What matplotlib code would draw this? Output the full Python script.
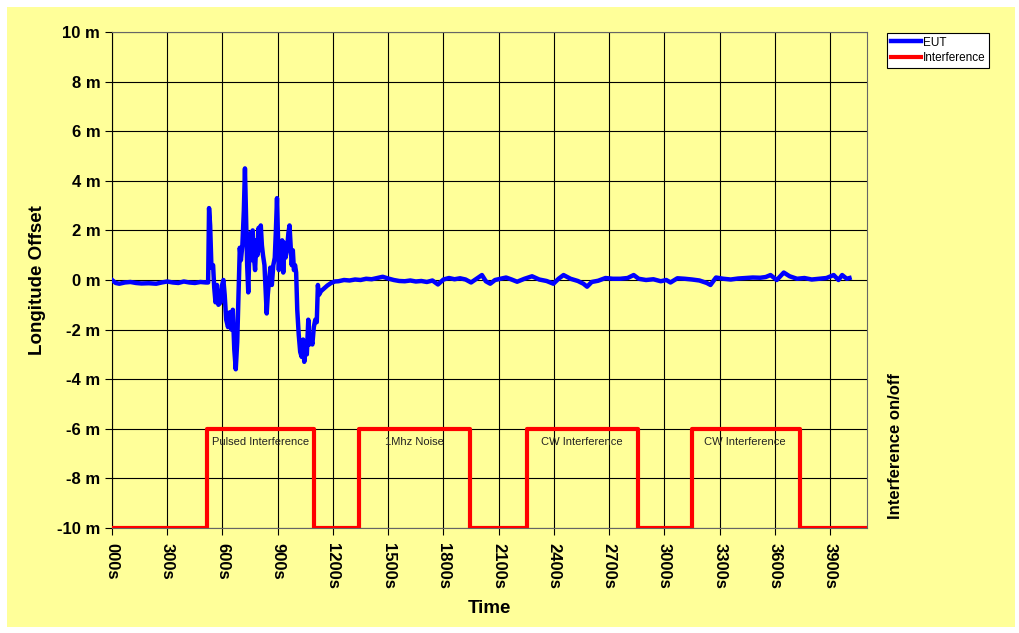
import matplotlib.pyplot as plt
from matplotlib.patches import Rectangle

plt.rcParams['font.family'] = ['Liberation Sans', 'DejaVu Sans']

# EUT longitude offset (m) over time (s)
eut_t = [0, 20, 40, 70, 100, 130, 160, 200, 240, 270, 300, 330, 360, 390, 420,
         450, 480, 510, 522,
         527, 533, 540, 549, 555, 562, 570, 578, 590, 598, 605, 612, 620, 630,
         640, 648, 656, 664, 672, 680, 688, 694, 700, 708, 716, 722, 728, 734,
         740, 746, 752, 758, 764, 770, 777, 784, 790, 796, 802, 808, 814, 820,
         828, 834, 840, 846, 852, 860, 868, 876, 884, 890, 896, 900, 906, 912,
         918, 924, 930, 936, 942, 950, 958, 964, 970, 976, 982, 988, 994, 1000,
         1006, 1014, 1022, 1030, 1038, 1044, 1050, 1058, 1066, 1072, 1080, 1088,
         1096, 1104, 1112, 1118, 1124, 1135, 1150, 1170, 1190, 1210,
         1230, 1260, 1290, 1320, 1350, 1380, 1410, 1440, 1470, 1500, 1530, 1560,
         1590, 1620, 1650, 1680, 1710, 1740, 1770, 1800, 1830, 1860, 1890, 1920,
         1950, 1980, 2009, 2030, 2054, 2080, 2110, 2140, 2170, 2200, 2240, 2281,
         2320, 2360, 2397, 2425, 2452, 2490, 2530, 2560, 2580, 2605, 2640, 2680,
         2720, 2760, 2800, 2833, 2860, 2900, 2940, 2980, 3010, 3033, 3070, 3110,
         3150, 3190, 3230, 3250, 3280, 3320, 3360, 3400, 3440, 3480, 3520, 3550,
         3576, 3610, 3648, 3680, 3720, 3760, 3800, 3840, 3880, 3919, 3945, 3965,
         3990, 4005]
eut_v = [0.0, -0.12, -0.15, -0.1, -0.08, -0.12, -0.14, -0.13, -0.15, -0.1, -0.06,
         -0.1, -0.12, -0.06, -0.1, -0.12, -0.08, -0.1, -0.1,
         2.9, 2.2, 0.5, 0.6, -0.3, -0.9, -0.2, -1.0, -0.9, -0.2, 0.0, -0.6, -1.6,
         -1.9, -1.3, -2.0, -1.2, -2.8, -3.6, -2.5, -0.3, 1.3, 0.8, 1.4, 2.8, 4.5,
         2.5, 0.6, -0.5, 1.2, 1.9, 0.8, 2.0, 1.0, 0.4, 1.6, 1.0, 2.1, 1.2, 2.2,
         1.4, 1.0, 0.6, -0.4, -1.35, -0.6, -0.1, 0.5, -0.2, 0.6, 0.9, 2.0, 3.3,
         2.2, 0.4, 1.4, 0.9, 1.6, 0.3, 1.5, 0.9, 1.2, 1.9, 2.2, 1.4, 0.6, 1.2,
         0.4, 0.6, 0.3, -1.2, -2.2, -2.9, -3.1, -2.4, -3.3, -2.7, -3.0, -1.6,
         -2.6, -2.3, -2.6, -1.9, -1.6, -1.7, -0.2, -0.6, -0.45, -0.35, -0.22,
         -0.12, -0.06,
         -0.05, 0.0, -0.02, 0.02, 0.0, 0.05, 0.03, 0.08, 0.13, 0.06, 0.0, -0.04,
         -0.05, -0.02, -0.06, -0.04, -0.08, -0.02, -0.18, 0.02, 0.08, 0.03, 0.07,
         0.02, -0.1, 0.05, 0.2, -0.05, -0.15, 0.0, 0.05, 0.1, 0.02, -0.07, 0.05,
         0.15, 0.02, -0.04, -0.15, 0.05, 0.2, 0.05, -0.04, -0.15, -0.27, -0.08,
         -0.03, 0.08, 0.05, 0.05, 0.08, 0.2, 0.05, 0.0, 0.03, -0.05, 0.0, -0.1,
         0.07, 0.05, 0.02, -0.02, -0.12, -0.2, 0.1, 0.05, 0.02, 0.06, 0.08, 0.1,
         0.09, 0.12, 0.2, 0.0, 0.3, 0.15, 0.05, 0.08, 0.02, 0.05, 0.08, 0.2, 0.0,
         0.2, 0.05, 0.08]

# interference on/off switching times
intf_t = [0, 516, 1098, 1342, 1946, 2255, 2859, 3147, 3734, 4100]
intf_v = [-10, -6, -10, -6, -10, -6, -10, -6, -10, -10]

labels = ['Pulsed Interference', '1Mhz Noise', 'CW Interference', 'CW Interference']
label_t = [805, 1641, 2550, 3435]

xticks = list(range(0, 4000, 300))
yticks = list(range(-10, 11, 2))

fig = plt.figure(figsize=(10.2, 6.33), dpi=100, facecolor='white')
bg = Rectangle((7 / 1020, 6 / 633), 1008 / 1020, 620 / 633,
               transform=fig.transFigure, facecolor='#FFFF99',
               edgecolor='none', zorder=-10)
fig.add_artist(bg)

ax = fig.add_axes([112 / 1020, 1 - 528 / 633, 755 / 1020, 496 / 633])
ax.set_facecolor('#FFFF99')

ax.plot(eut_t, eut_v, color='#0000FF', lw=3.2, label='EUT', zorder=3)
ax.plot(intf_t, intf_v, color='#FF0000', lw=3, drawstyle='steps-post',
        label='Interference', zorder=3)

for txt, t in zip(labels, label_t):
    ax.text(t, -6.55, txt, ha='center', va='center', fontsize=8, color='#222222')

ax.set_xlim(0, 4100)
ax.set_ylim(-10, 10)
ax.set_xticks(xticks)
ax.set_xticklabels([f'{t:03d}s' for t in xticks], rotation=270,
                   fontsize=12, fontweight='bold')
ax.set_yticks(yticks)
ax.set_yticklabels([f'{v} m' for v in yticks], fontsize=12, fontweight='bold')
ax.grid(True, color='black', lw=0.8)
ax.set_axisbelow(True)
ax.tick_params(direction='out', length=5, width=0.8, colors='black')
ax.tick_params(axis='x', pad=6)
for s in ax.spines.values():
    s.set_color('#666666')
ax.spines['left'].set_color('black')

ax.set_xlabel('Time', fontsize=13.5, fontweight='bold', labelpad=8)
ax.set_ylabel('Longitude Offset', fontsize=13.5, fontweight='bold', labelpad=8)

ax2 = ax.twinx()
ax2.set_ylim(-10, 10)
ax2.set_yticks([])
ax2.set_ylabel('Interference on/off', fontsize=12, fontweight='bold')
ax2.yaxis.set_label_coords(1.028, 0.165)
for s in ax2.spines.values():
    s.set_visible(False)

leg = ax.legend(loc='upper left', bbox_to_anchor=(887 / 1020, 1 - 33 / 633),
                bbox_transform=fig.transFigure, fontsize=8.5, frameon=True,
                fancybox=False, edgecolor='black', framealpha=1,
                handlelength=2.6, handletextpad=0.15, borderpad=0.3,
                labelspacing=0.3, borderaxespad=0)
leg.get_frame().set_linewidth(0.8)

fig.savefig('out.png', dpi=100, facecolor='white')
